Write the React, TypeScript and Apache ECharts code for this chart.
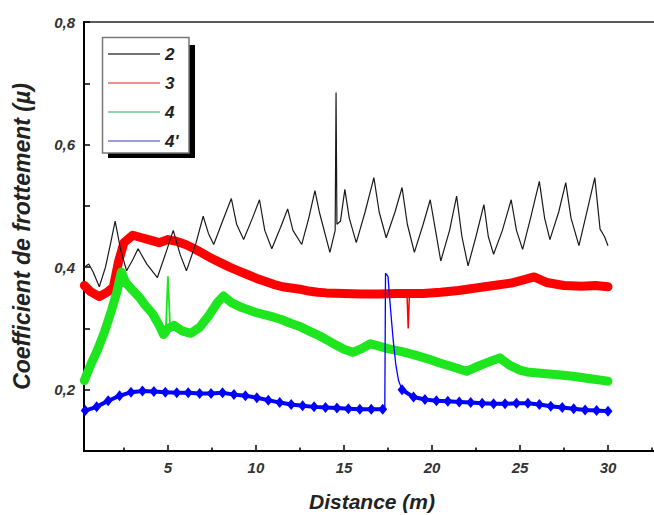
import React, { useEffect, useRef } from "react";
import * as echarts from "echarts";

// Series "2" (black)
const s2X = [0.25, 0.5, 0.75, 1.1, 1.45, 1.75, 2.0, 2.3, 2.65, 3.0, 3.3, 3.8, 4.4, 4.9, 5.3, 5.7, 6.05, 6.6, 7.0, 7.3, 7.6, 8.1, 8.6, 8.9, 9.3, 9.8, 10.2, 10.5, 10.9, 11.4, 11.8, 12.1, 12.6, 13.0, 13.35, 13.6, 14.2, 14.5, 14.55, 14.6, 14.8, 15.05, 15.3, 15.7, 16.2, 16.7, 17.0, 17.4, 17.9, 18.3, 18.6, 19.0, 19.5, 19.9, 20.2, 20.5, 21.0, 21.4, 21.7, 22.05, 22.5, 22.95, 23.2, 23.5, 24.0, 24.5, 24.8, 25.15, 25.6, 26.1, 26.4, 26.7, 27.2, 27.6, 27.9, 28.35, 28.8, 29.25, 29.55, 29.8, 30.0];
const s2Y = [0.4, 0.405, 0.392, 0.368, 0.4, 0.44, 0.475, 0.43, 0.394, 0.412, 0.43, 0.405, 0.383, 0.425, 0.46, 0.42, 0.394, 0.44, 0.483, 0.455, 0.437, 0.475, 0.512, 0.47, 0.445, 0.48, 0.51, 0.46, 0.43, 0.465, 0.495, 0.46, 0.437, 0.48, 0.525, 0.49, 0.424, 0.46, 0.685, 0.47, 0.475, 0.527, 0.48, 0.44, 0.49, 0.546, 0.49, 0.448, 0.49, 0.53, 0.47, 0.424, 0.47, 0.51, 0.46, 0.41, 0.46, 0.516, 0.45, 0.402, 0.45, 0.502, 0.45, 0.421, 0.46, 0.51, 0.46, 0.429, 0.48, 0.54, 0.48, 0.445, 0.49, 0.538, 0.48, 0.435, 0.49, 0.546, 0.462, 0.45, 0.435];

// Series "3" (red): main band and the thin dip near 18.6 m
const s3X = [0.25, 0.6, 1.1, 1.6, 1.9, 2.2, 2.5, 3.0, 3.5, 4.0, 4.5, 5.0, 5.5, 6.0, 6.5, 7.0, 7.5, 8.0, 8.5, 9.0, 9.5, 10.0, 10.5, 11.0, 11.5, 12.0, 12.5, 13.0, 13.5, 14.0, 15.0, 16.0, 17.0, 18.0, 18.65, 19.5, 20.5, 21.5, 22.5, 23.5, 24.5, 25.3, 25.8, 26.5, 27.5, 28.5, 29.3, 30.0];
const s3Y = [0.37, 0.36, 0.352, 0.36, 0.368, 0.41, 0.44, 0.452, 0.448, 0.444, 0.44, 0.445, 0.442, 0.437, 0.43, 0.422, 0.414, 0.407, 0.4, 0.394, 0.388, 0.382, 0.377, 0.372, 0.368, 0.366, 0.364, 0.361, 0.359, 0.358, 0.357, 0.356, 0.356, 0.357, 0.357, 0.357, 0.359, 0.362, 0.366, 0.37, 0.374, 0.38, 0.384, 0.375, 0.37, 0.369, 0.37, 0.368];
const s3DipX = [18.58, 18.65, 18.72];
const s3DipY = [0.357, 0.3, 0.357];

// Series "4" (green): main band and the thin spike at 5 m
const s4X = [0.25, 0.6, 1.0, 1.4, 1.8, 2.1, 2.35, 2.6, 3.0, 3.4, 3.7, 4.1, 4.5, 4.75, 5.0, 5.35, 5.8, 6.3, 6.8, 7.3, 7.8, 8.15, 8.6, 9.2, 10.0, 10.8, 11.4, 12.0, 12.5, 13.0, 13.6, 14.1, 14.6, 15.0, 15.5, 16.0, 16.5, 17.0, 17.5, 18.3, 19.1, 19.8, 20.4, 21.2, 21.96, 22.5, 23.2, 23.85, 24.4, 25.0, 25.4, 26.5, 27.3, 28.0, 29.0, 30.0];
const s4Y = [0.215, 0.24, 0.265, 0.295, 0.33, 0.36, 0.392, 0.375, 0.362, 0.35, 0.338, 0.325, 0.305, 0.29, 0.3, 0.305, 0.296, 0.292, 0.302, 0.32, 0.342, 0.353, 0.342, 0.334, 0.326, 0.32, 0.315, 0.308, 0.303, 0.296, 0.288, 0.28, 0.272, 0.266, 0.261, 0.267, 0.275, 0.271, 0.267, 0.262, 0.256, 0.25, 0.244, 0.237, 0.23, 0.237, 0.245, 0.252, 0.24, 0.232, 0.229, 0.226, 0.224, 0.222, 0.218, 0.214];
const s4SpikeX = [4.88, 5.0, 5.12];
const s4SpikeY = [0.298, 0.385, 0.302];

// Series "4'" (blue): before spike, spike, after spike
const s4pBeforeX = [0.3, 0.95, 1.6, 2.25, 2.9, 3.55, 4.2, 4.85, 5.5, 6.15, 6.8, 7.45, 8.1, 8.75, 9.4, 10.05, 10.7, 11.35, 12.0, 12.65, 13.3, 13.95, 14.6, 15.25, 15.9, 16.55, 17.2];
const s4pBeforeY = [0.166, 0.172, 0.182, 0.19, 0.196, 0.198, 0.197, 0.196, 0.195, 0.195, 0.194, 0.194, 0.195, 0.192, 0.19, 0.187, 0.183, 0.179, 0.176, 0.174, 0.172, 0.171, 0.17, 0.169, 0.168, 0.168, 0.168];
const s4pSpikeX = [17.2, 17.32, 17.36, 17.5, 17.65, 17.8, 17.95, 18.1, 18.3];
const s4pSpikeY = [0.168, 0.17, 0.39, 0.385, 0.33, 0.28, 0.24, 0.215, 0.2];
const s4pAfterX = [18.3, 18.95, 19.6, 20.25, 20.9, 21.55, 22.2, 22.85, 23.5, 24.15, 24.8, 25.45, 26.1, 26.75, 27.4, 28.05, 28.7, 29.35, 30.0];
const s4pAfterY = [0.2, 0.188, 0.184, 0.182, 0.181, 0.18, 0.179, 0.178, 0.177, 0.177, 0.178, 0.178, 0.176, 0.173, 0.171, 0.169, 0.167, 0.166, 0.165];

const legendNames = ["2", "3", "4", "4'"];

const pairs = (xs: number[], ys: number[]) => xs.map((x, i) => [x, ys[i]]);

const FONT = "'Liberation Sans', Arial, sans-serif";

export default function App() {
  const ref = useRef<HTMLDivElement>(null);

  useEffect(() => {
    document.body.style.margin = "0";
    if (!ref.current) return;
    const chart = echarts.init(ref.current, undefined, { renderer: "svg" });

    const blueThick = [
      ...pairs(s4pBeforeX, s4pBeforeY),
      [null, null],
      ...pairs(s4pAfterX, s4pAfterY),
    ];

    const bold = {
      fontFamily: FONT,
      fontWeight: "bold",
      fontStyle: "italic",
    };

    chart.setOption({
      animation: false,
      backgroundColor: "#ffffff",
      textStyle: { fontFamily: FONT },
      grid: {
        left: 84,
        top: 22,
        right: 24,
        bottom: 64,
        outerBoundsMode: "none",
        containLabel: false,
        show: true,
        borderColor: "#5a5a5a",
        borderWidth: 2,
        backgroundColor: "transparent",
      },
      graphic: [
        {
          type: "rect",
          z: 0,
          shape: { x: 108, y: 45, width: 87, height: 113 },
          style: { fill: "#000000" },
        },
        {
          type: "rect",
          z: 1,
          shape: { x: 102.5, y: 37.5, width: 86.5, height: 115.5 },
          style: { fill: "#ffffff", stroke: "#777777", lineWidth: 1.5 },
        },
      ],
      legend: {
        orient: "vertical",
        left: 108,
        top: 44,
        padding: 0,
        icon: "rect",
        itemWidth: 52,
        itemHeight: 1.3,
        itemGap: 9,
        textStyle: {
          ...bold,
          fontSize: 17,
          color: "#222222",
          lineHeight: 20,
        },
        data: [
          { name: legendNames[0], itemStyle: { color: "#444444" } },
          { name: legendNames[1], itemStyle: { color: "#e86a6a" } },
          { name: legendNames[2], itemStyle: { color: "#6cc88c" } },
          { name: legendNames[3], itemStyle: { color: "#7c7cd0" } },
        ],
      },
      xAxis: {
        type: "value",
        min: 0.23,
        max: 35,
        minInterval: 5,
        maxInterval: 5,
        name: "Distance (m)",
        nameLocation: "middle",
        nameGap: 39,
        nameTextStyle: {
          ...bold,
          fontSize: 21,
          lineHeight: 22,
          color: "#222222",
          padding: [0, 36, 0, 0],
        },
        axisLine: { show: true, lineStyle: { color: "#000000", width: 2 } },
        axisTick: { show: true, inside: true, length: 6, lineStyle: { color: "#000000", width: 1.5 } },
        minorTick: { show: true, splitNumber: 2, length: 3.5, lineStyle: { color: "#000000", width: 1.5 } },
        splitLine: { show: false },
        minorSplitLine: { show: false },
        axisLabel: {
          ...bold,
          margin: 9,
          fontSize: 15,
          color: "#333333",
          formatter: (v: number) => (v > 0 && v <= 30 && Math.abs(v % 5) < 1e-9 ? String(v) : ""),
        },
      },
      yAxis: {
        type: "value",
        min: 0.1,
        max: 0.8,
        interval: 0.1,
        name: "Coefficient de frottement (µ)",
        nameLocation: "middle",
        nameGap: 51,
        nameTextStyle: {
          ...bold,
          fontSize: 23,
          color: "#222222",
        },
        axisLine: { show: true, lineStyle: { color: "#000000", width: 2 } },
        axisTick: { show: true, inside: true, length: 6, lineStyle: { color: "#000000", width: 1.5 } },
        splitLine: { show: false },
        axisLabel: {
          ...bold,
          margin: 9,
          fontSize: 15,
          color: "#333333",
          formatter: (v: number) => {
            const r = Math.round(v * 10);
            return r % 2 === 0 ? (r / 10).toFixed(1).replace(".", ",") : "";
          },
        },
      },
      series: [
        {
          name: legendNames[0],
          type: "line",
          data: pairs(s2X, s2Y),
          symbol: "none",
          lineStyle: { color: "#1a1a1a", width: 1.2 },
          itemStyle: { color: "#1a1a1a" },
          z: 5,
        },
        {
          name: legendNames[1],
          type: "line",
          data: pairs(s3X, s3Y),
          symbol: "none",
          lineStyle: { color: "#ff0000", width: 9, join: "round", cap: "round" },
          itemStyle: { color: "#ff0000" },
          z: 3,
        },
        {
          name: legendNames[1],
          type: "line",
          data: pairs(s3DipX, s3DipY),
          symbol: "none",
          lineStyle: { color: "#ff0000", width: 1.5 },
          itemStyle: { color: "#ff0000" },
          z: 3,
        },
        {
          name: legendNames[2],
          type: "line",
          data: pairs(s4X, s4Y),
          symbol: "none",
          lineStyle: { color: "#1ee61e", width: 9, join: "round", cap: "round" },
          itemStyle: { color: "#1ee61e" },
          z: 3,
        },
        {
          name: legendNames[2],
          type: "line",
          data: pairs(s4SpikeX, s4SpikeY),
          symbol: "none",
          lineStyle: { color: "#1ee61e", width: 1.8 },
          itemStyle: { color: "#1ee61e" },
          z: 3,
        },
        {
          name: legendNames[3],
          type: "line",
          data: pairs(s4pSpikeX, s4pSpikeY),
          symbol: "none",
          lineStyle: { color: "#0000ff", width: 1.3 },
          itemStyle: { color: "#0000ff" },
          z: 4,
        },
        {
          name: legendNames[3],
          type: "line",
          data: blueThick,
          connectNulls: false,
          symbol: "diamond",
          symbolSize: [9, 11],
          showSymbol: true,
          showAllSymbol: true,
          lineStyle: { color: "#0000ff", width: 4, join: "round" },
          itemStyle: { color: "#0000ff" },
          z: 4,
        },
      ],
    });

    return () => chart.dispose();
  }, []);

  return (
    <div style={{ position: "fixed", left: 0, top: 0, width: 654, height: 515, overflow: "hidden", background: "#fff" }}>
      <div ref={ref} style={{ width: 720, height: 515 }} />
    </div>
  );
}
